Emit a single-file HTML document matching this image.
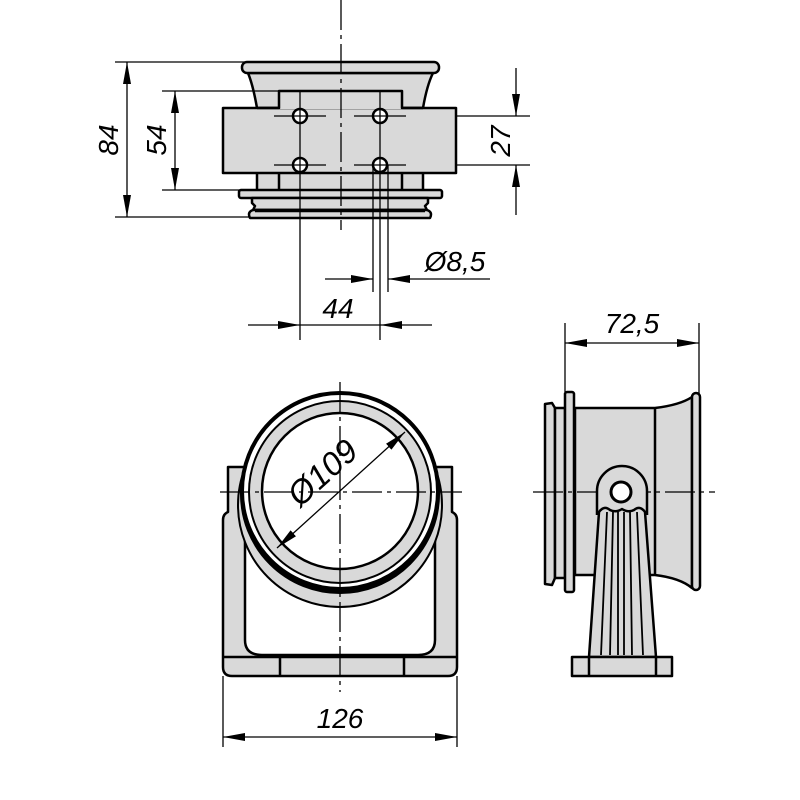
<!DOCTYPE html>
<html><head><meta charset="utf-8"><style>
html,body{margin:0;padding:0;background:#fff;}
svg{display:block;}
text{font-family:"Liberation Sans",sans-serif;font-style:italic;fill:#000;}
</style></head><body>
<svg width="800" height="800" viewBox="0 0 800 800" xmlns="http://www.w3.org/2000/svg">
<defs>
<marker id="a" viewBox="0 0 22 8" refX="22" refY="4" markerWidth="22" markerHeight="8" markerUnits="userSpaceOnUse" orient="auto-start-reverse"><path d="M0,0 L22,4 L0,8 z" fill="#000"/></marker>
</defs>
<g stroke="#000" fill="none" stroke-width="1.3">
<!-- TOP VIEW -->
<g stroke-width="2.5" fill="#d9d9d9" stroke-linejoin="round">
<path d="M248,73 L433,73 Q427,85 423,108 L257,108 Q253,85 248,73 z"/>
<rect x="242" y="62" width="197" height="11" rx="5"/>
<rect x="257" y="172" width="166" height="18" stroke="none"/>
<path d="M257,173 L257,190 M423,173 L423,190 M279,173 L279,190 M402,173 L402,190" fill="none"/>
<rect x="223" y="108" width="233" height="65"/>
<rect x="280" y="92" width="121" height="17" stroke="none"/>
<path d="M257,108 L279,108 L279,91 L402,91 L402,108 L423,108" fill="none"/>
<rect x="239" y="190" width="203" height="8" rx="2"/>
<path d="M252,198 L428,198 L428,203 L425,206 L427,210 L253,210 L255,206 L252,203 z"/>
<path d="M253,210 L427,210 Q433,212 430,218 L250,218 Q247,212 253,210 z"/>
</g>
<path d="M255,210.5 L425,210.5" stroke-width="3.5"/>
<g stroke-width="2.5" fill="#fff">
<circle cx="300" cy="116" r="7"/><circle cx="380" cy="116" r="7"/>
<circle cx="300" cy="165" r="7"/><circle cx="380" cy="165" r="7"/>
</g>
<path d="M274,116 L326,116 M354,116 L406,116 M274,165 L326,165 M354,165 L406,165"/>
<path d="M341,0 L341,230" stroke-dasharray="30,5,4,5"/>
<path d="M300,92 L300,340 M380,92 L380,340 M373,165 L373,292 M388,165 L388,292"/>
<!-- 84 -->
<path d="M115,62 L245,62 M115,217 L250,217"/>
<path d="M127,62 L127,217" marker-start="url(#a)" marker-end="url(#a)"/>
<!-- 54 -->
<path d="M162,91 L279,91 M162,190 L240,190"/>
<path d="M175,91 L175,190" marker-start="url(#a)" marker-end="url(#a)"/>
<!-- 27 -->
<path d="M457,116 L530,116 M457,165 L530,165"/>
<path d="M516,68 L516,116" marker-end="url(#a)"/>
<path d="M516,215 L516,165" marker-end="url(#a)"/>
<!-- 44 -->
<path d="M248,325 L300,325" marker-end="url(#a)"/>
<path d="M432,325 L380,325" marker-end="url(#a)"/>
<path d="M300,325 L380,325"/>
<!-- 8,5 -->
<path d="M325,279 L373,279" marker-end="url(#a)"/>
<path d="M490,279 L388,279" marker-end="url(#a)"/>

<!-- FRONT VIEW -->
<g stroke-width="2.5" stroke-linejoin="round">
<path d="M228,467 L245,467 L245,520 L435,520 L435,467 L452,467 L452,512 Q457,514 457,520 L457,667 Q457,676 448,676 L232,676 Q223,676 223,667 L223,520 Q223,514 228,512 z" fill="#d9d9d9"/>
<path d="M245,520 L245,640 Q245,655 262,655 L418,655 Q435,655 435,640 L435,520" fill="#fff"/>
<path d="M223,657 L457,657 M280,657 L280,676 M404,657 L404,676" fill="none"/>
<circle cx="340" cy="505" r="102" fill="#d9d9d9" stroke-width="2"/>
<circle cx="340" cy="494" r="98" fill="#fff" stroke-width="4"/>
<circle cx="340" cy="491" r="98" fill="#fff" stroke-width="4"/>
<circle cx="340" cy="492" r="91" fill="#d9d9d9" stroke-width="2"/>
<circle cx="340" cy="491" r="78" fill="#fff"/>
</g>
<path d="M340,382 L340,692" stroke-dasharray="30,5,4,5"/>
<path d="M220,492 L462,492" stroke-dasharray="30,5,4,5"/>
<path d="M277,548 L405,432" marker-start="url(#a)" marker-end="url(#a)"/>
<!-- 126 -->
<path d="M223,676 L223,747 M457,676 L457,747"/>
<path d="M223,737 L457,737" marker-start="url(#a)" marker-end="url(#a)"/>

<!-- SIDE VIEW -->
<path d="M565,323 L565,392 M699,323 L699,394"/>
<path d="M565,343 L699,343" marker-start="url(#a)" marker-end="url(#a)"/>
<g stroke-width="2.5" fill="#d9d9d9" stroke-linejoin="round">
<path d="M575,408 L655,408 Q680,405 692,397 L692,588 Q680,578 655,575 L575,575 z"/>
<path d="M655,408 L655,575" fill="none"/>
<path d="M545,404 L552,403 L555,408 L555,578 L552,585 L545,584 z"/>
<rect x="555" y="408" width="10" height="170"/>
<rect x="565" y="392" width="9" height="200" rx="2"/>
<rect x="692" y="393" width="8" height="197" rx="4"/>
</g>
<path d="M533,492 L715,492" stroke-dasharray="30,5,4,5"/>
<g stroke-width="2.5" stroke-linejoin="round">
<path d="M597,515 L597,491 A25,25 0 0 1 647,491 L647,515" fill="#d9d9d9"/>
<circle cx="621" cy="492" r="10" fill="#fff" stroke-width="3"/>
<path d="M599,512 Q604,505 610,510 Q616,513 622,509 Q628,513 634,510 Q640,505 645,512 L656,657 L589,657 z" fill="#d9d9d9"/>
<rect x="572" y="657" width="100" height="19" fill="#d9d9d9"/>
<path d="M589,657 L589,676 M656,657 L656,676" fill="none"/>
<path d="M607,512 L601,655 M613,512 L610,655 M618,512 L618,655 M624,512 L624,655 M630,512 L632,655 M637,512 L643,655" fill="none" stroke-width="1.8"/>
</g>
</g>
<text x="0" y="0" font-size="28" transform="translate(118,140) rotate(-90)" text-anchor="middle">84</text>
<text x="0" y="0" font-size="28" transform="translate(166,140) rotate(-90)" text-anchor="middle">54</text>
<text x="0" y="0" font-size="28" transform="translate(510,141) rotate(-90)" text-anchor="middle">27</text>
<text x="338" y="318" font-size="28" text-anchor="middle">44</text>
<text x="455" y="271" font-size="28" text-anchor="middle">Ø8,5</text>
<text x="0" y="0" font-size="33" transform="translate(330,481) rotate(-42)" text-anchor="middle">Ø109</text>
<text x="340" y="728" font-size="28" text-anchor="middle">126</text>
<text x="632" y="333" font-size="28" text-anchor="middle">72,5</text>
</svg>
</body></html>
